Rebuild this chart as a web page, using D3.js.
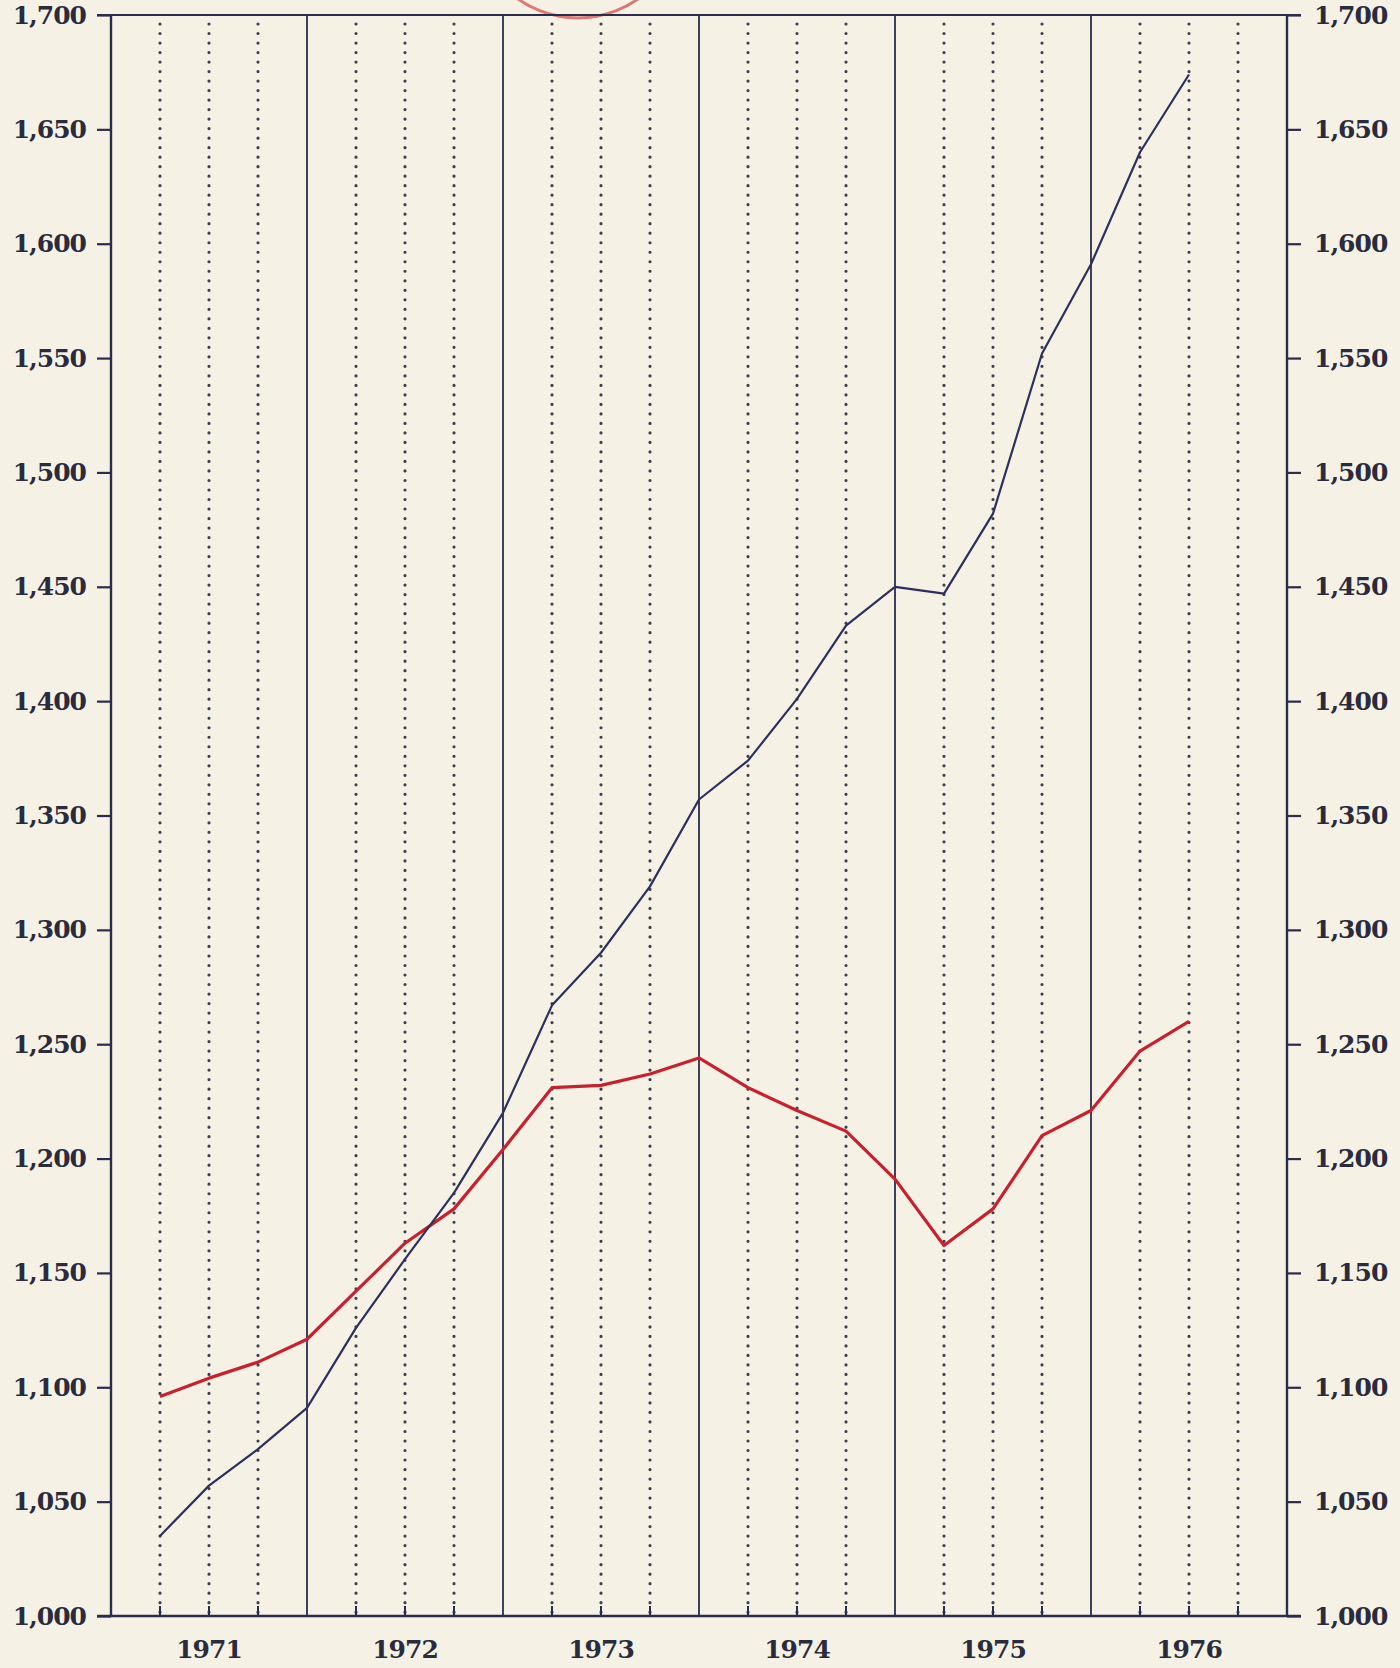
<!DOCTYPE html>
<html>
<head>
<meta charset="utf-8">
<script src="https://cdn.jsdelivr.net/npm/d3@7"></script>
<style>
  html, body { margin: 0; padding: 0; background: #f5f2e5; }
  svg { display: block; }
  text { font-family: "DejaVu Serif", "Liberation Serif", serif; fill: #2a2b3d; }
</style>
</head>
<body>
<svg id="chart" width="1400" height="1668"></svg>
<script>
// ---- data ----
const years = [1971, 1972, 1973, 1974, 1975, 1976];
const quarterLabels = [
  "1971 Q1","1971 Q2","1971 Q3","1971 Q4",
  "1972 Q1","1972 Q2","1972 Q3","1972 Q4",
  "1973 Q1","1973 Q2","1973 Q3","1973 Q4",
  "1974 Q1","1974 Q2","1974 Q3","1974 Q4",
  "1975 Q1","1975 Q2","1975 Q3","1975 Q4",
  "1976 Q1","1976 Q2"
];
const blueSeries = [1035, 1057, 1073, 1091, 1126, 1156, 1185, 1220, 1267, 1290, 1319, 1357,
                    1374, 1401, 1433, 1450, 1447, 1482, 1552, 1591, 1640, 1674];
const redSeries  = [1096, 1104, 1111, 1121, 1142, 1163, 1178, 1204, 1231, 1232, 1237, 1244,
                    1231, 1221, 1212, 1191, 1162, 1178, 1210, 1221, 1247, 1260];
const yTicks = [1000, 1050, 1100, 1150, 1200, 1250, 1300, 1350, 1400, 1450, 1500, 1550, 1600, 1650, 1700];

(function () {
// ---- layout ----
const svg = d3.select("#chart");
const mLeft = 111, mRight = 1287, mTop = 15, mBottom = 1616;
const navy = "#2b2c4c";

const nSlots = years.length * 4; // quarter slots 0..24
const x = d3.scaleLinear().domain([0, nSlots]).range([mLeft, mRight]);
const y = d3.scaleLinear().domain([1000, 1700]).range([mBottom, mTop]);

// position of each quarter on the slot grid (1..22)
const qPos = quarterLabels.map((q, i) => i + 1);

// decorative red annotation circle at top (from original)
svg.append("circle")
  .attr("cx", 578).attr("cy", -86).attr("r", 104)
  .attr("fill", "none").attr("stroke", "#d65a55").attr("stroke-width", 3).attr("opacity", 0.8);

// vertical grid lines
const slots = d3.range(1, nSlots);
const g = svg.append("g");
slots.forEach(s => {
  const xx = x(s);
  if (s % 4 === 0) {
    g.append("line")
      .attr("x1", xx).attr("x2", xx).attr("y1", mTop).attr("y2", mBottom)
      .attr("stroke", navy).attr("stroke-width", 1.8);
  } else {
    g.append("line")
      .attr("x1", xx).attr("x2", xx).attr("y1", mTop + 9).attr("y2", mBottom)
      .attr("stroke", "#3f3f52").attr("stroke-width", 3.2)
      .attr("stroke-linecap", "round")
      .attr("stroke-dasharray", "0.01 9.5");
    g.append("line")
      .attr("x1", xx).attr("x2", xx).attr("y1", mBottom - 10).attr("y2", mBottom)
      .attr("stroke", navy).attr("stroke-width", 2);
  }
});

// frame: top and bottom horizontal lines
const tickLen = 14;
svg.append("line").attr("x1", mLeft - tickLen).attr("x2", mRight + tickLen)
  .attr("y1", mTop).attr("y2", mTop).attr("stroke", navy).attr("stroke-width", 2.2);
svg.append("line").attr("x1", mLeft - tickLen).attr("x2", mRight + tickLen)
  .attr("y1", mBottom).attr("y2", mBottom).attr("stroke", navy).attr("stroke-width", 2.4);

const fmt = d3.format(",");
const axL = d3.axisLeft(y).tickValues(yTicks).tickSize(tickLen).tickPadding(11).tickFormat(fmt);
const axR = d3.axisRight(y).tickValues(yTicks).tickSize(tickLen).tickPadding(13).tickFormat(fmt);

function styleAxis(sel) {
  sel.select(".domain").attr("stroke", navy).attr("stroke-width", 2.4);
  sel.selectAll(".tick line").attr("stroke", navy).attr("stroke-width", 2.2);
  sel.selectAll(".tick text")
    .attr("font-family", "DejaVu Serif, serif")
    .attr("font-size", 25).attr("font-weight", "bold")
    .attr("letter-spacing", -1)
    .attr("fill", "#2a2b3d");
}
svg.append("g").attr("transform", `translate(${mLeft},0)`).call(axL).call(styleAxis)
  .select(".domain").attr("d", `M0,${mTop}V${mBottom}`);
svg.append("g").attr("transform", `translate(${mRight},0)`).call(axR).call(styleAxis)
  .select(".domain").attr("d", `M0,${mTop}V${mBottom}`);

// year labels centered in each year block
svg.append("g").selectAll("text").data(years).join("text")
  .attr("x", (d, i) => x(i * 4 + 2))
  .attr("y", mBottom + 35)
  .attr("text-anchor", "middle")
  .attr("dominant-baseline", "middle")
  .attr("font-size", 25).attr("font-weight", "bold")
  .attr("letter-spacing", -1)
  .text(d => d);

// series lines
const line = d3.line().x((d, i) => x(qPos[i])).y(d => y(d));
svg.append("path").datum(redSeries)
  .attr("d", line).attr("fill", "none")
  .attr("stroke", "#c8202f").attr("stroke-width", 3.2).attr("stroke-linejoin", "round");
svg.append("path").datum(blueSeries)
  .attr("d", line).attr("fill", "none")
  .attr("stroke", "#2d2f5e").attr("stroke-width", 2.2).attr("stroke-linejoin", "round");
})();
</script>
</body>
</html>
